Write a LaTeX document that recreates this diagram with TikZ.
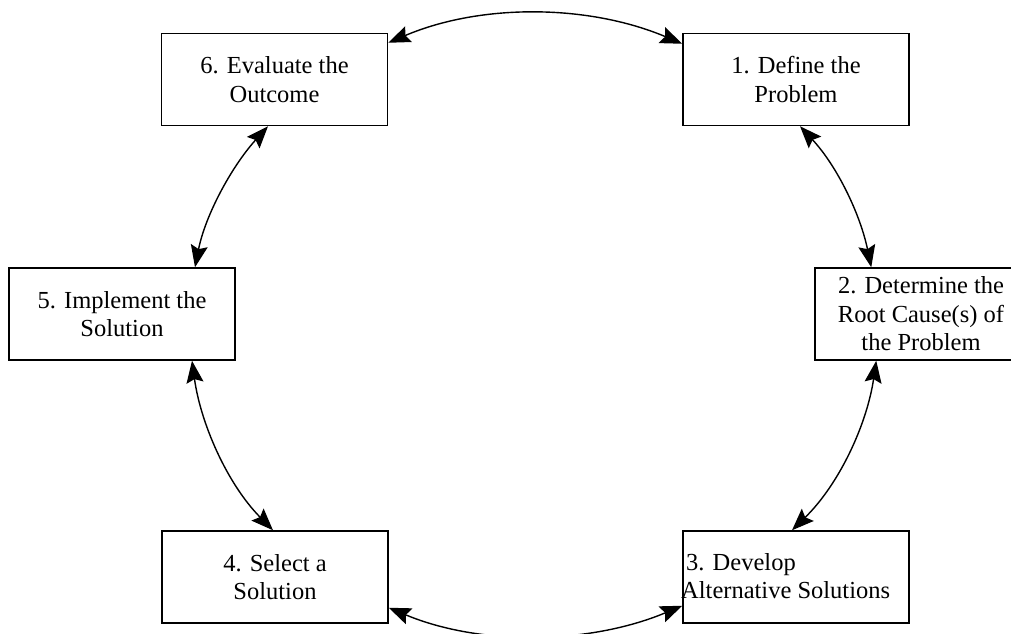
\documentclass[tikz,border=0pt]{standalone}
\usepackage{fontspec}
\setmainfont{Liberation Serif}
\usetikzlibrary{arrows.meta}
\begin{document}
\begin{tikzpicture}[x=1pt,y=-1pt,
  stepbox/.style={draw,line width=1.5pt,minimum width=226pt,minimum height=92pt,inner sep=0pt,align=center,font=\fontsize{24.5}{28.5}\selectfont},
  conn/.style={line width=1.4pt,{Stealth[length=22pt,width=17pt,inset=3.5pt]}-{Stealth[length=22pt,width=17pt,inset=3.5pt]}},
  lbl/.style={inner sep=0pt,align=left,font=\fontsize{24.5}{28.5}\selectfont}]
\useasboundingbox (0,0) rectangle (1011,633);
\node[stepbox] (b6) at (274.5,79.5) {6. Evaluate the\\Outcome};
\node[stepbox] (b1) at (796,79.5) {1. Define the\\Problem};
\node[stepbox,minimum width=212pt] (b2) at (921,314) {2. Determine the\\Root Cause(s) of\\the Problem};
\node[stepbox] (b5) at (122,314) {5. Implement the\\Solution};
\node[stepbox] (b4) at (275,577) {4. Select a\\Solution};
\node[stepbox] (b3) at (796,577) {};
\node[lbl,anchor=west] (t3) at (681,576) {\hspace*{5pt}3. Develop\\Alternative Solutions};
\coordinate (p6a) at ([yshift=-10pt]b6.north east);
\coordinate (p1a) at ([yshift=-11pt]b1.north west);
\coordinate (p1b) at ([xshift=4pt]b1.south);
\coordinate (p2a) at ([xshift=57pt]b2.north west);
\coordinate (p2b) at ([xshift=62pt]b2.south west);
\coordinate (p3a) at ([xshift=-4pt]b3.north);
\coordinate (p3b) at ([yshift=18pt]b3.south west);
\coordinate (p4b) at ([yshift=16pt]b4.south east);
\coordinate (p4a) at ([xshift=-2pt]b4.north);
\coordinate (p5b) at ([xshift=70pt]b5.south);
\coordinate (p5a) at ([xshift=73pt]b5.north);
\coordinate (p6b) at ([xshift=-6.5pt]b6.south);
\draw[conn] (p6a) .. controls +(93.2,-39.7) and +(-93.4,-39.4) .. (p1a);
\draw[conn] (p1b) .. controls +(37.8,40.7) and +(-10.8,-52.1) .. (p2a);
\draw[conn] (p2b) .. controls +(-9.2,62.9) and +(47.8,-46.7) .. (p3a);
\draw[conn] (p3b) .. controls +(-92.4,38.6) and +(92.4,38.6) .. (p4b);
\draw[conn] (p4a) .. controls +(-46.2,-46.8) and +(8.5,62.0) .. (p5b);
\draw[conn] (p5a) .. controls +(10.2,-51.6) and +(-36.8,40.7) .. (p6b);
\end{tikzpicture}
\end{document}
